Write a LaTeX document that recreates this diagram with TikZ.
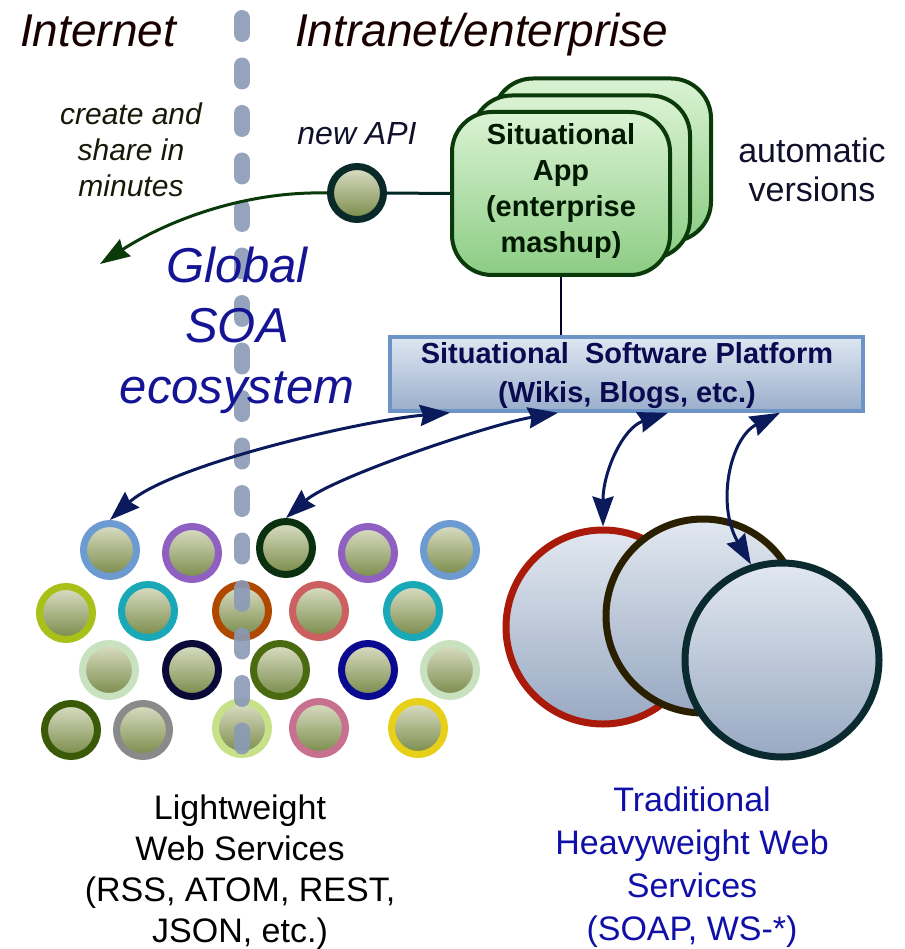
\documentclass[tikz,border=0pt]{standalone}
\usepackage{fontspec}
\setmainfont{Liberation Sans}
\usetikzlibrary{arrows.meta}

\definecolor{dashgray}{HTML}{8A9AB6}
\definecolor{navyarrow}{HTML}{0A1A5A}
\definecolor{greenarrow}{HTML}{0A3A0A}
\definecolor{navytext}{HTML}{141494}
\definecolor{darktext}{HTML}{10102A}
\definecolor{olivetext}{HTML}{181808}
\definecolor{platnavy}{HTML}{0A0A50}
\definecolor{ballTop}{HTML}{DCDFC6}
\definecolor{ballBot}{HTML}{788A48}
\definecolor{bigTop}{HTML}{E2E8F0}
\definecolor{bigBot}{HTML}{98A9C2}
\definecolor{appTop}{HTML}{DAF3D3}
\definecolor{appBot}{HTML}{8CCC84}
\definecolor{appEdge}{HTML}{0A3A0A}
\definecolor{platTop}{HTML}{DEE7F2}
\definecolor{platBot}{HTML}{9AAECB}
\definecolor{platEdge}{HTML}{6D94C6}
% ring colours of the service balls
\definecolor{rSky}{HTML}{6B9BD0}
\definecolor{rPurple}{HTML}{9060C0}
\definecolor{rForest}{HTML}{0A3010}
\definecolor{rLime}{HTML}{A8C018}
\definecolor{rTeal}{HTML}{18A8B8}
\definecolor{rRust}{HTML}{B04800}
\definecolor{rRose}{HTML}{CC6060}
\definecolor{rMint}{HTML}{C8E2C0}
\definecolor{rInk}{HTML}{0A0A38}
\definecolor{rOlive}{HTML}{4A6A10}
\definecolor{rNavy}{HTML}{0A0A90}
\definecolor{rMoss}{HTML}{3A5A08}
\definecolor{rGray}{HTML}{8A8A8A}
\definecolor{rPale}{HTML}{C8E088}
\definecolor{rPink}{HTML}{C87090}
\definecolor{rGold}{HTML}{E8D018}
\definecolor{rApi}{HTML}{0A2A2A}
\definecolor{rRed}{HTML}{AA1A0A}
\definecolor{rDark}{HTML}{2A2000}
\definecolor{rSlate}{HTML}{0A2A30}

\begin{document}
\begin{tikzpicture}[x=1pt,y=-1pt,
  ball/.style={circle, inner sep=0pt, minimum size=53pt, line width=7pt,
    top color=ballTop, bottom color=ballBot, draw=#1},
  bigball/.style={circle, inner sep=0pt, minimum size=194pt, line width=7pt,
    top color=bigTop, bottom color=bigBot, draw=#1},
  appbox/.style={rectangle, rounded corners=40pt, minimum width=218pt,
    minimum height=163pt, line width=4pt, draw=appEdge,
    top color=appTop, bottom color=appBot},
  platbox/.style={rectangle, minimum width=473pt, minimum height=74pt,
    line width=3.5pt, draw=platEdge, top color=platTop, bottom color=platBot},
  navylink/.style={line width=3pt, draw=navyarrow,
    {Stealth[length=30pt,width=21pt,inset=3pt]}-{Stealth[length=30pt,width=21pt,inset=3pt]}},
  dashline/.style={line width=16pt, draw=dashgray, line cap=round,
    dash pattern=on 16pt off 31.5pt, opacity=0.9},
  lbl/.style={inner sep=0pt, align=center, anchor=base},
]
% canvas
\fill[white] (0,0) rectangle (904,949);
\useasboundingbox (0,0) rectangle (904,949);

% lightweight services
\node[ball=rSky] (b11) at (110,550) {};
\node[ball=rPurple] (b12) at (192,553) {};
\node[ball=rForest] (b13) at (286,548) {};
\node[ball=rPurple] (b14) at (368,553) {};
\node[ball=rSky] (b15) at (450,550) {};
\node[ball=rLime] (b21) at (66,613) {};
\node[ball=rTeal] (b22) at (148,611) {};
\node[ball=rRust] (b23) at (242,611) {};
\node[ball=rRose] (b24) at (319,611) {};
\node[ball=rTeal] (b25) at (413,611) {};
\node[ball=rMint] (b31) at (109,670) {};
\node[ball=rInk] (b32) at (192,670) {};
\node[ball=rOlive] (b33) at (280,670) {};
\node[ball=rNavy] (b34) at (368,670) {};
\node[ball=rMint] (b35) at (450,670) {};
\node[ball=rMoss] (b41) at (71,730) {};
\node[ball=rGray] (b42) at (143,730) {};
\node[ball=rPale] (b43) at (242,728) {};
\node[ball=rPink] (b44) at (319,728) {};
\node[ball=rGold] (b45) at (418,728) {};

% heavyweight services
\node[bigball=rRed] (c1) at (603,627) {};
\node[bigball=rDark] (c2) at (703,616) {};
\node[bigball=rSlate] (c3) at (782,660) {};

% internet / intranet boundary
\coordinate (dtop) at (242,18);
\coordinate (dbot) at (242,747);
\draw[dashline] (dtop) -- (dbot);

% situational app, stacked versions
\node[appbox] (app3) at (602,160) {};
\node[appbox] (app2) at (581,177) {};
\node[appbox] (app) at (561,193.5) {};
\node[lbl, font=\bfseries\fontsize{29}{36}\selectfont, text=black!90!green]
  (apptxt) at (561,253) {Situational\\App\\(enterprise\\mashup)};

% platform
\node[platbox] (plat) at (626.5,374) {};
\node[lbl, font=\bfseries\fontsize{29}{39}\selectfont, text=platnavy]
  (plattxt) at (627,402) {Situational\ \ Software Platform\\(Wikis, Blogs, etc.)};

% new API
\node[ball=rApi] (napi) at (357,193) {};
\draw[line width=3pt, draw=black!70!teal] (napi.east) -- (app.west);
\draw[line width=2.5pt, draw=black!85!blue] (app.south) -- (app.south |- plat.north);
\coordinate (gtip) at (100,264);
\draw[line width=3pt, draw=greenarrow,
  -{Stealth[length=30pt,width=20pt,inset=3pt]}]
  (napi.west) .. controls +(-80,-2) and +(70,-45) .. (gtip);

% platform links
\draw[navylink] (b11.north) .. controls +(60,-55) and +(-90,8) .. ([xshift=-176.5pt]plat.south);
\draw[navylink] (b13.north) .. controls +(45,-40) and +(-70,12) .. ([xshift=-68.5pt]plat.south);
\draw[navylink] ([xshift=41.5pt]plat.south) .. controls +(-45,15) and +(0,-55) .. (c1.north);
\draw[navylink] ([xshift=153.5pt]plat.south) .. controls +(-50,25) and +(-35,-60) .. (c3.108);

% labels
\node[lbl, font=\itshape\fontsize{46}{50}\selectfont, text=black!90!red] (tinet) at (98,47) {Internet};
\node[lbl, font=\itshape\fontsize{46}{50}\selectfont, text=black!90!red, anchor=base west] (tintra) at (295,47) {Intranet/enterprise};
\node[lbl, font=\itshape\fontsize{30}{36}\selectfont, text=olivetext] (tcreate) at (131,197) {create and\\share in\\minutes};
\node[lbl, font=\itshape\fontsize{32}{36}\selectfont, text=darktext] (tapi) at (357,145) {new API};
\node[lbl, font=\fontsize{34}{39}\selectfont, text=darktext] (tauto) at (812,202) {automatic\\versions};
\node[lbl, font=\itshape\fontsize{49}{60.5}\selectfont, text=navytext] (tsoa) at (237,403) {Global\\SOA\\ecosystem};
\node[lbl, font=\fontsize{34}{40.7}\selectfont, text=black] (tlight) at (240,942) {Lightweight\\Web Services\\(RSS, ATOM, REST,\\JSON, etc.)};
\node[lbl, font=\fontsize{34}{42.7}\selectfont, text=navytext!80!blue] (theavy) at (692,940) {Traditional\\Heavyweight Web\\Services\\(SOAP, WS-*)};
\end{tikzpicture}
\end{document}
